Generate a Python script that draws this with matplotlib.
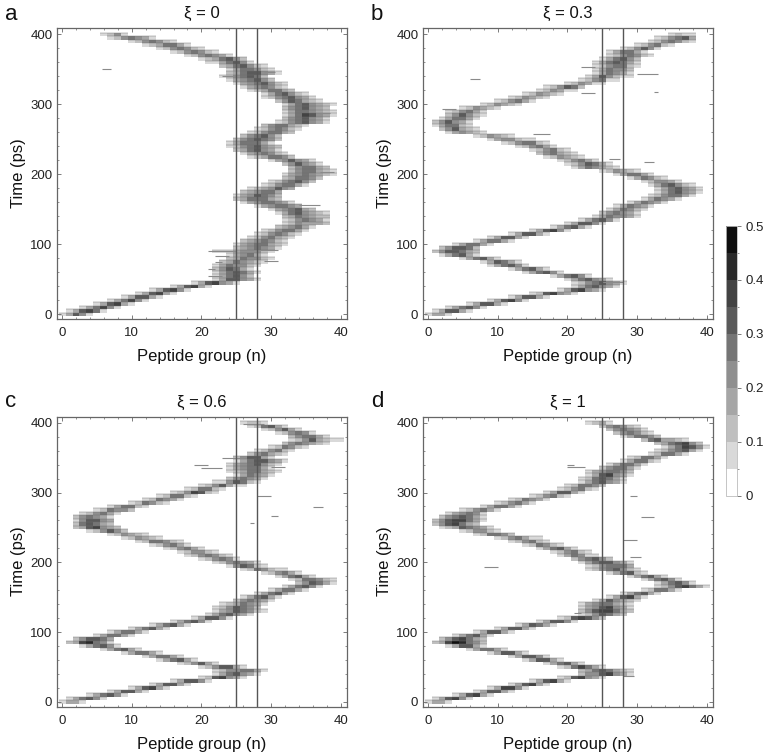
import numpy as np
import matplotlib
matplotlib.use("Agg")
import matplotlib.pyplot as plt
from matplotlib.colors import ListedColormap, BoundaryNorm
from matplotlib.ticker import MultipleLocator

plt.rcParams['font.family'] = ['Liberation Sans', 'DejaVu Sans']

# Occupancy per row: first peptide group of the row, then one grey class (0-9) per group
row_times = list(range(0, 405, 5))

a_start = [0, 1, 3, 5, 7, 9, 11, 13, 16, 19, 22, 22, 22, 22, 22, 23, 24, 24, 22, 25,
           25, 26, 27, 28, 29, 31, 32, 32, 32, 31, 30, 28, 26, 25, 25, 26, 27, 29, 30, 32,
           32, 33, 33, 32, 30, 27, 26, 25, 24, 24, 25, 26, 27, 28, 29, 31, 32, 32, 32, 32,
           32, 31, 29, 29, 27, 26, 25, 24, 23, 24, 24, 23, 21, 20, 18, 16, 14, 12, 10, 7, 6]
a_cells = ["13641", "136751", "135741", "136731", "135741", "136631", "136731", "136741", "136731", "1367431",
           "1366431", "135642", "1356531", "246531", "1354421", "2354321", "2354421", "134531", "111344421", "2345431",
           "13455321", "2345421", "1245321", "1245421", "1245531", "234531", "1243332", "1245431", "2354322", "13564321",
           "1345632", "1345543", "13455431", "2355532", "1346542", "234553", "1234643", "1245531", "1245642", "235542",
           "13454321", "2455321", "245532", "246431", "1346431", "1235542", "1345421", "2356431", "12456432", "1355531",
           "2456542", "245642", "1245532", "1245421", "2455321", "12456431", "2456431", "13576431", "13554321", "2456432",
           "13564321", "2465321", "12456431", "1356421", "1235532", "1345421", "13456421", "1345642", "1245652", "23566431",
           "1355421", "2356421", "1135641", "1235642", "1245431", "1245421", "1245421", "1235531", "1245421", "1245431", "1241"]

b_start = [0, 1, 3, 6, 9, 12, 15, 19, 21, 21, 20, 18, 14, 12, 9, 8, 5, 2, 1, 2,
           4, 7, 9, 12, 15, 18, 20, 22, 24, 25, 26, 27, 29, 31, 32, 33, 33, 32, 31, 29,
           27, 25, 21, 20, 19, 17, 16, 15, 13, 11, 9, 7, 3, 2, 1, 1, 2, 3, 3, 5,
           8, 10, 12, 14, 16, 17, 20, 22, 23, 24, 24, 24, 24, 25, 26, 26, 28, 30, 32, 33, 35]
b_cells = ["1331", "136631", "135641", "136631", "136741", "136631", "1267431", "1367431", "1356431", "12456431",
           "1356431", "135641", "135641", "135631", "135641", "136531", "135631", "135631", "2466532", "246652",
           "135531", "135531", "136631", "136631", "136741", "135631", "136641", "135641", "1354431", "245431",
           "135421", "135431", "135431", "135431", "1245531", "1356431", "1356431", "1356421", "124431", "135421",
           "135531", "124321", "1354321", "1246531", "124531", "124321", "245321", "124521", "124531", "1245521",
           "1344211", "124321", "134321", "246321", "135521", "246431", "135531", "246421", "124531", "124321",
           "124321", "124531", "124321", "124321", "124311", "124652", "124311", "124511", "1364211", "135431",
           "135442", "1245521", "1356531", "135642", "1245421", "135531", "124641", "124521", "1245421", "124563", "1211"]

c_start = [0, 1, 4, 7, 10, 13, 16, 20, 22, 22, 20, 17, 14, 12, 9, 6, 3, 1, 2, 5,
           7, 10, 13, 16, 19, 21, 22, 22, 23, 25, 26, 28, 30, 32, 34, 33, 31, 29, 26, 24,
           22, 20, 18, 17, 15, 13, 11, 9, 7, 4, 2, 2, 2, 2, 3, 5, 7, 10, 12, 14,
           16, 18, 20, 22, 24, 25, 24, 24, 24, 25, 25, 27, 28, 30, 32, 33, 33, 31, 29, 27, 26]
c_cells = ["1331", "135641", "135641", "136631", "136731", "136631", "136641", "1267431", "1356431", "12445531",
           "1246631", "124631", "135631", "135531", "135531", "135631", "135641", "2378541", "246653", "135531",
           "135531", "135631", "135631", "135641", "136641", "1356431", "13465421", "1246542", "1235431", "245431",
           "135631", "135631", "135531", "135641", "246531", "1255421", "135631", "124531", "1254211", "146521",
           "1245431", "124541", "1245421", "124421", "124531", "124531", "1255421", "124321", "124321", "124642",
           "2367432", "256532", "146643", "245431", "124531", "125442", "135521", "125421", "125431", "125521",
           "1247621", "125521", "1246311", "1146521", "245431", "135431", "12355321", "1345531", "13456421", "13566431",
           "246631", "245321", "124521", "125421", "2454321", "12463211", "245531", "124541", "124631", "125631", "1221"]

d_start = [0, 1, 4, 7, 9, 12, 15, 19, 22, 22, 19, 17, 14, 12, 9, 6, 3, 1, 2, 4,
           7, 10, 13, 16, 19, 22, 22, 22, 22, 24, 26, 28, 31, 33, 33, 31, 29, 26, 23, 23,
           22, 21, 19, 18, 16, 14, 12, 10, 7, 5, 2, 1, 1, 2, 3, 5, 8, 10, 12, 15,
           17, 19, 20, 22, 22, 23, 23, 25, 26, 28, 29, 32, 33, 34, 33, 31, 28, 27, 26, 25, 23]
d_cells = ["1331", "136741", "136731", "136631", "137741", "136731", "136731", "1267431", "24467431", "23565321",
           "1257531", "135631", "136631", "136641", "136631", "135531", "136631", "23798542", "2467532", "135631",
           "136631", "136631", "136531", "136641", "1267642", "1246532", "24677532", "13467431", "13455321", "1364321",
           "136731", "135631", "125531", "12467531", "135641", "135641", "135631", "135621", "12456421", "1245553",
           "13566431", "245642", "135411", "124521", "135631", "125421", "124521", "1245311", "125542", "124421",
           "12365431", "2467532", "24677531", "2456531", "134541", "124531", "135531", "124531", "125431", "124521",
           "136631", "124521", "125542", "1356431", "1256531", "1367431", "1345542", "245531", "135531", "135521",
           "125531", "125531", "1245631", "1357641", "2356742", "2563321", "135542", "245421", "245431", "245421", "1231"]

# Thin one-row streaks off the main path: time, first group, last group
a_streak_t = [350, 91, 83, 75, 65, 55, 92, 76, 346, 156, 288, 204, 340]
a_streak_n0 = [5.8, 21, 22, 22, 21, 21, 28, 29, 29, 34, 37, 37, 23]
a_streak_n1 = [7, 25, 24, 23, 22, 23, 31, 31, 30.5, 37, 38.5, 39, 25]
b_streak_t = [336, 293, 318, 257, 222, 218, 343, 46, 316, 354]
b_streak_n0 = [6, 2, 32.5, 15, 26, 31, 30, 25, 22, 22]
b_streak_n1 = [7.5, 4, 33, 17.5, 27.5, 32.5, 33, 28, 24, 24]
c_streak_t = [340, 335, 295, 279, 267, 257, 337, 349, 398]
c_streak_n0 = [19, 20, 28, 36, 30, 27, 30, 23, 26]
c_streak_n1 = [21, 23, 30, 37.5, 31, 27.5, 32, 26, 29]
d_streak_t = [337, 295, 265, 232, 193, 37, 128, 340, 208]
d_streak_n0 = [20, 29, 30.5, 28, 8, 28, 21, 20, 29]
d_streak_n1 = [22.5, 30, 32.5, 30, 10, 29.5, 22, 21, 30.5]

titles = ["ξ = 0", "ξ = 0.3", "ξ = 0.6", "ξ = 1"]
letters = ["a", "b", "c", "d"]
marker_groups = [25, 28]
levels = np.arange(0, 0.55, 0.05)
greys = ["#ffffff", "#d9d9d9", "#bfbfbf", "#a6a6a6", "#8f8f8f",
         "#757575", "#5a5a5a", "#434343", "#2a2a2a", "#0f0f0f"]

W, H = 768, 756
cmap = ListedColormap(greys)
norm = BoundaryNorm(levels, cmap.N)
frame_color = "#666666"


def px_axes(fig, left, top, right, bottom):
    return fig.add_axes([left / W, 1 - bottom / H, (right - left) / W, (bottom - top) / H])


def draw_panel(ax, starts, cells, st, s0, s1, title):
    grid = np.zeros((len(row_times), 42))
    for i, (first, row) in enumerate(zip(starts, cells)):
        for j, c in enumerate(row):
            grid[i, first + j] = int(c) * 0.05 + 0.025
    x_edges = np.arange(-0.5, 42.5, 1)
    y_edges = np.arange(-2.5, 407.5, 5)
    ax.pcolormesh(x_edges, y_edges, grid, cmap=cmap, norm=norm, shading="flat")
    # a hairline along each occupied row gives the banded look of the contour bins
    row_last = [first + len(row) - 0.5 for first, row in zip(starts, cells)]
    row_first = [first - 0.5 for first in starts]
    ax.hlines(np.array(row_times) + 2.5, row_first, row_last, color="#6e6e6e", lw=0.3)
    ax.hlines(st, s0, s1, color="#8a8a8a", lw=0.8)
    for n in marker_groups:
        ax.axvline(n, color="#555555", lw=1.0)
    ax.set_xlim(-0.8, 40.9)
    ax.set_ylim(-6.7, 409)
    ax.xaxis.set_major_locator(MultipleLocator(10))
    ax.xaxis.set_minor_locator(MultipleLocator(2))
    ax.yaxis.set_major_locator(MultipleLocator(100))
    ax.yaxis.set_minor_locator(MultipleLocator(20))
    ax.tick_params(which="major", direction="in", top=True, right=True, length=3,
                   width=0.6, color=frame_color, labelsize=9.5, labelcolor="#222222")
    ax.tick_params(which="minor", direction="in", top=True, right=True, length=1.5,
                   width=0.5, color=frame_color)
    ax.tick_params(axis="x", which="major", pad=6)
    ax.tick_params(axis="y", which="major", pad=3)
    for spine in ax.spines.values():
        spine.set_color(frame_color)
        spine.set_linewidth(0.9)
    ax.set_title(title, fontsize=12, color="#111111", pad=7)
    ax.set_xlabel("Peptide group (n)", fontsize=12, color="#111111", labelpad=7)
    ax.set_ylabel("Time (ps)", fontsize=12, color="#111111", labelpad=3)


fig = plt.figure(figsize=(W / 100, H / 100), dpi=100)

ax_a = px_axes(fig, 56.5, 28, 347, 319)
ax_b = px_axes(fig, 422.5, 28, 713, 319)
ax_c = px_axes(fig, 56.5, 416.5, 347, 706.5)
ax_d = px_axes(fig, 422.5, 416.5, 713, 706.5)

draw_panel(ax_a, a_start, a_cells, a_streak_t, a_streak_n0, a_streak_n1, titles[0])
draw_panel(ax_b, b_start, b_cells, b_streak_t, b_streak_n0, b_streak_n1, titles[1])
draw_panel(ax_c, c_start, c_cells, c_streak_t, c_streak_n0, c_streak_n1, titles[2])
draw_panel(ax_d, d_start, d_cells, d_streak_t, d_streak_n0, d_streak_n1, titles[3])

fig.text(5 / W, 1 - 15 / H, letters[0], fontsize=16, va="center", color="#111111")
fig.text(371 / W, 1 - 15 / H, letters[1], fontsize=16, va="center", color="#111111")
fig.text(5 / W, 1 - 401 / H, letters[2], fontsize=16, va="center", color="#111111")
fig.text(371 / W, 1 - 401 / H, letters[3], fontsize=16, va="center", color="#111111")

# Shared colour scale on the right
cax = px_axes(fig, 725.5, 226, 737, 495.5)
sm = plt.cm.ScalarMappable(cmap=cmap, norm=norm)
cb = fig.colorbar(sm, cax=cax, ticks=[0, 0.1, 0.2, 0.3, 0.4, 0.5], spacing="proportional")
cb.ax.set_yticklabels(["0", "0.1", "0.2", "0.3", "0.4", "0.5"])
cb.ax.yaxis.set_minor_locator(MultipleLocator(0.05))
cb.ax.tick_params(which="major", length=3, width=0.6, color="#666666", labelsize=9.5,
                  labelcolor="#222222", pad=3)
cb.ax.tick_params(which="minor", length=1.5, width=0.5, color="#666666")
cb.outline.set_edgecolor("#bbbbbb")
cb.outline.set_linewidth(0.6)

fig.savefig("out.png", dpi=100)
